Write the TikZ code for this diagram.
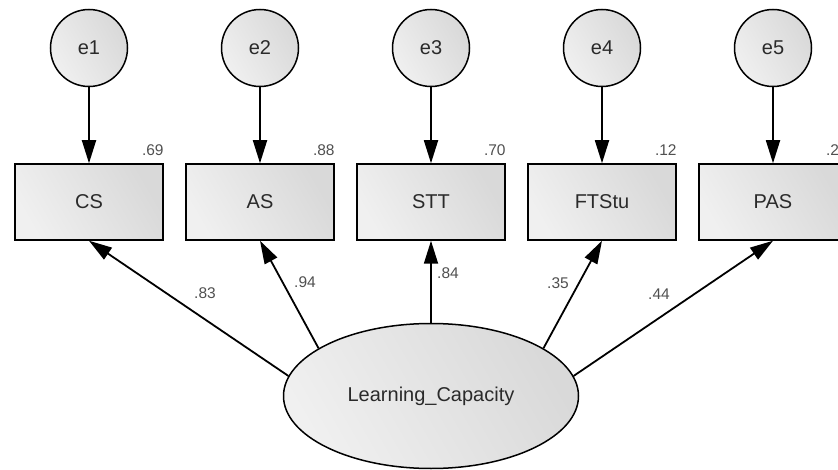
\documentclass[tikz,border=0pt]{standalone}
\usepackage{fontspec}
\setmainfont{Liberation Sans}
\usetikzlibrary{shapes.geometric,arrows.meta}
\definecolor{txt}{HTML}{2A2A2A}
\definecolor{lbl}{HTML}{505050}
\tikzset{
  fillshade/.style={left color=black!6, right color=black!15, shading angle=120},
  errnode/.style={circle, draw=black, line width=1.5pt, fillshade, minimum size=77pt, inner sep=0pt,
    font=\fontsize{20}{20}\selectfont, text=txt},
  obsnode/.style={rectangle, draw=black, line width=1.5pt, fillshade, minimum width=148pt, minimum height=76pt,
    inner sep=0pt, font=\fontsize{20}{20}\selectfont, text=txt},
  latnode/.style={ellipse, draw=black, line width=1.5pt, fillshade, minimum width=295pt, minimum height=145pt,
    inner sep=0pt, font=\fontsize{20}{20}\selectfont, text=txt},
  arr/.style={line width=1.8pt, -{Triangle[length=23pt,width=14pt]}},
  coef/.style={inner sep=0pt, font=\fontsize{15.5}{15.5}\selectfont, text=lbl},
}
\begin{document}
\begin{tikzpicture}[x=1pt,y=-1pt]
\useasboundingbox (0,0) rectangle (838,470);
\clip (0,0) rectangle (838,470);
\fill[white] (0,0) rectangle (838,470);
% error terms
\node[errnode] (e1) at (89,48) {e1};
\node[errnode] (e2) at (260,48) {e2};
\node[errnode] (e3) at (431,48) {e3};
\node[errnode] (e4) at (602,48) {e4};
\node[errnode] (e5) at (773,48) {e5};
% observed
\node[obsnode] (cs) at (89,202) {CS};
\node[obsnode] (as) at (260,202) {AS};
\node[obsnode] (stt) at (431,202) {STT};
\node[obsnode] (ft) at (602,202) {FTStu};
\node[obsnode] (pas) at (773,202) {PAS};
% latent
\node[latnode] (lc) at (431,396) {Learning\_Capacity};
% error arrows
\draw[arr] (e1) -- (cs);
\draw[arr] (e2) -- (as);
\draw[arr] (e3) -- (stt);
\draw[arr] (e4) -- (ft);
\draw[arr] (e5) -- (pas);
% loadings
\draw[arr] (lc.172) -- (cs.south);
\draw[arr] (lc.157) -- (as.south);
\draw[arr] (lc.north) -- (stt.south);
\draw[arr] (lc.23) -- (ft.south);
\draw[arr] (lc.8) -- (pas.south);
% R squared
\node[coef, anchor=base east] (r1) at ([yshift=8pt]cs.north east) {.69};
\node[coef, anchor=base east] (r2) at ([yshift=8pt]as.north east) {.88};
\node[coef, anchor=base east] (r3) at ([yshift=8pt]stt.north east) {.70};
\node[coef, anchor=base east] (r4) at ([yshift=8pt]ft.north east) {.12};
\node[coef, anchor=base east] (r5) at ([yshift=8pt]pas.north east) {.20};
% loading labels
\node[coef] (l1) at (205,293) {.83};
\node[coef] (l2) at (305,282) {.94};
\node[coef] (l3) at (448,273) {.84};
\node[coef] (l4) at (558,283) {.35};
\node[coef] (l5) at (659,294) {.44};
\end{tikzpicture}
\end{document}
